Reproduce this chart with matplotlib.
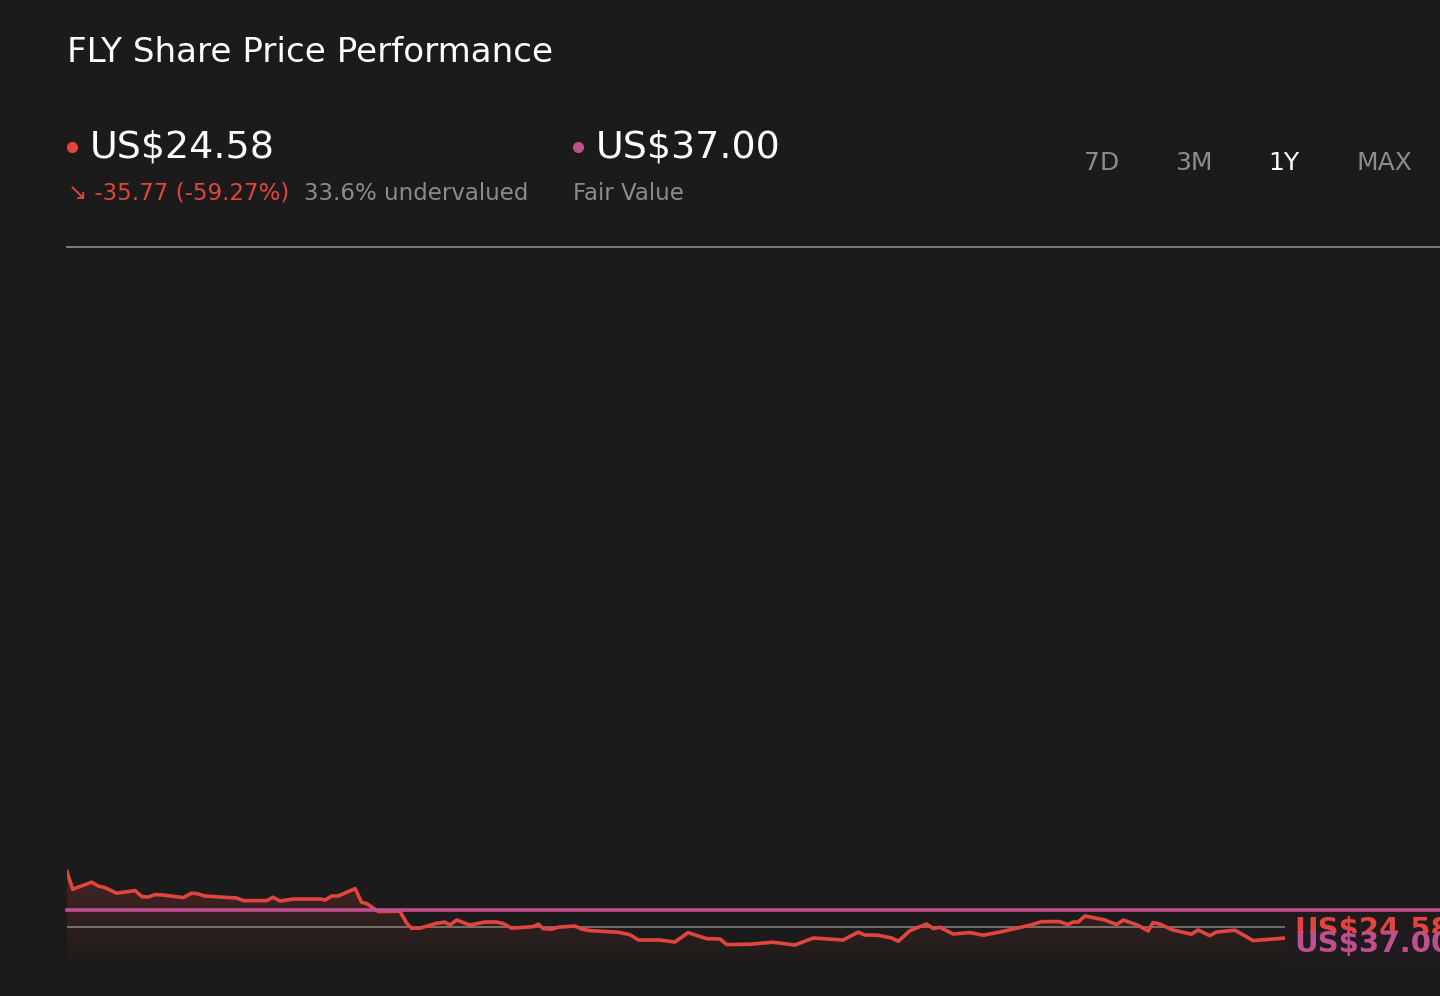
import numpy as np
import matplotlib
matplotlib.use("Agg")
import matplotlib.pyplot as plt
from matplotlib.patches import FancyBboxPatch

# price history (days since start, US$)
days = [0, 1.5, 6.6, 8.3, 10.1, 13.2, 18.1, 19.9, 21.6, 23.4, 25.6, 30.9, 33.1, 34.5,
        36.7, 40.7, 45.1, 46.9, 53.1, 54.8, 56.6, 60.2, 67.3, 68.6, 70.4, 72.1, 76.6,
        78.3, 79.7, 82.8, 88.5, 90.3, 91.6, 93.8, 98.3, 100.5, 101.8, 103.6, 107.1,
        111.1, 114.2, 116.0, 118.2, 124.0, 125.3, 126.6, 128.8, 130.6, 135.0, 136.8,
        139.0, 146.5, 149.6, 151.9, 157.6, 161.6, 165.1, 170.0, 173.6, 175.4, 181.5,
        187.7, 193.5, 198.4, 206.3, 210.3, 212.1, 215.6, 219.2, 221.0, 224.1, 228.5,
        230.3, 232.0, 235.6, 240.0, 243.6, 248.0, 256.0, 259.1, 263.9, 266.1, 267.5,
        268.8, 270.6, 275.9, 279.0, 280.8, 284.7, 287.4, 288.7, 290.5, 293.6, 298.9,
        300.7, 303.8, 305.6, 310.5, 315.3, 323.3, 340.0, 365.0]
prices = [56.2, 47.4, 50.9, 49.0, 48.2, 45.4, 46.7, 43.7, 43.5, 44.7, 44.5, 43.2, 45.4, 45.2,
          44.0, 43.5, 43.0, 41.7, 41.7, 43.4, 41.5, 42.5, 42.5, 42.0, 44.0, 44.0, 47.7,
          40.9, 40.2, 36.2, 36.4, 30.4, 27.9, 27.9, 30.4, 30.9, 29.5, 32.0, 29.5,
          31.0, 31.0, 30.2, 27.9, 28.7, 29.9, 27.7, 27.4, 28.4, 29.0, 27.5,
          26.7, 25.9, 24.7, 22.0, 22.0, 21.0, 25.7, 22.7, 22.5, 19.7, 19.9,
          20.9, 19.5, 23.0, 22.0, 25.9, 24.5, 24.4, 23.0, 21.4, 26.7, 30.0,
          27.7, 28.4, 25.0, 25.7, 24.4, 26.0, 29.4, 31.2, 31.2, 29.7, 31.0,
          31.0, 34.0, 32.0, 29.7, 32.0, 29.4, 26.5, 30.7, 30.0, 27.2, 24.9,
          27.0, 24.2, 26.0, 26.9, 21.7, 22.9, 23.5, 23.2]
fair_value = 37.0
ref_level = 28.5
top_level = 368.5

current_label = "US$24.58"
fair_label = "US$37.00"
change_label = "\u2198 -35.77 (-59.27%)"
valuation_label = "33.6% undervalued"
ranges = ["7D", "3M", "1Y", "MAX"]
active_range = "1Y"

BG = "#1b1b1b"
RED = "#e2453f"
MAG = "#c04f8e"
GRID = "#8a8676"
GREY = "#8c8c8c"

W, H = 1440, 996


def fx(x):
    return x / W


def fy(y):
    return 1 - y / H


fig = plt.figure(figsize=(14.4, 9.96), dpi=100, facecolor=BG)
ax = fig.add_axes([fx(67), fy(960), fx(W - 67), (960 - 247) / H])
ax.set_facecolor(BG)
ax.axis("off")
tf = fig.transFigure

# area under the price line with a fading gradient
poly = ax.fill_between(days, prices, 12, color="none", lw=0)
grad = np.zeros((100, 1, 4))
grad[:, 0, 0] = 0.88
grad[:, 0, 1] = 0.27
grad[:, 0, 2] = 0.25
grad[:, 0, 3] = np.linspace(0.03, 0.22, 100)
img = ax.imshow(grad, extent=[0, 365, 12, max(prices)], origin="lower",
                aspect="auto", zorder=1)
img.set_clip_path(poly.get_paths()[0], transform=ax.transData)
ax.set_xlim(0, 365)
ax.set_ylim(12, top_level)

ax.axhline(top_level, color=GRID, lw=1.3, clip_on=False, zorder=2)
ax.axhline(ref_level, color=GRID, lw=1.1, zorder=2)
ax.plot(days, prices, color=RED, lw=2.6, zorder=3, solid_joinstyle="round")

# price labels at the right edge
outer = FancyBboxPatch((fx(1285), fy(966)), fx(170), (966 - 910) / H,
                       boxstyle="round,pad=0,rounding_size=0.004", transform=tf,
                       facecolor="#1f1a1c", edgecolor="none", zorder=4, clip_on=False)
ax.add_patch(outer)
ax.text(fx(1294), fy(930), current_label, transform=tf, color=RED, fontsize=21,
        fontweight="bold", va="center", ha="left", zorder=5, clip_on=False)
inner = FancyBboxPatch((fx(1285), fy(966)), fx(170), (966 - 933) / H,
                       boxstyle="round,pad=0,rounding_size=0.004", transform=tf,
                       facecolor="#201b1e", edgecolor="none", zorder=6, clip_on=False)
ax.add_patch(inner)
ax.text(fx(1294), fy(944), fair_label, transform=tf, color=MAG, fontsize=21,
        fontweight="bold", va="center", ha="left", zorder=7, clip_on=False)
ax.axhline(fair_value, color=MAG, lw=2.6, zorder=8, clip_on=False)

# header
fig.text(fx(67), fy(53), "FLY Share Price Performance", color="white",
         fontsize=24.6, va="center", ha="left")
fig.lines.append(plt.Line2D([fx(72)], [fy(147)], marker="o", ms=7, color=RED,
                            transform=tf))
fig.text(fx(90), fy(147), current_label, color="white", fontsize=27.4,
         va="center", ha="left")
fig.text(fx(68), fy(193), change_label, color=RED, fontsize=16.5,
         va="center", ha="left")
fig.text(fx(304), fy(193), valuation_label, color=GREY, fontsize=16.5,
         va="center", ha="left")
fig.lines.append(plt.Line2D([fx(578)], [fy(147)], marker="o", ms=7, color=MAG,
                            transform=tf))
fig.text(fx(596), fy(147), fair_label, color="white", fontsize=27.4,
         va="center", ha="left")
fig.text(fx(573), fy(193), "Fair Value", color=GREY, fontsize=16.5,
         va="center", ha="left")

for lab, cx in zip(ranges, [1102, 1194, 1284, 1384]):
    fig.text(fx(cx), fy(163), lab, color="white" if lab == active_range else GREY,
             fontsize=18, va="center", ha="center")

fig.savefig("out.png", dpi=100, facecolor=BG)
